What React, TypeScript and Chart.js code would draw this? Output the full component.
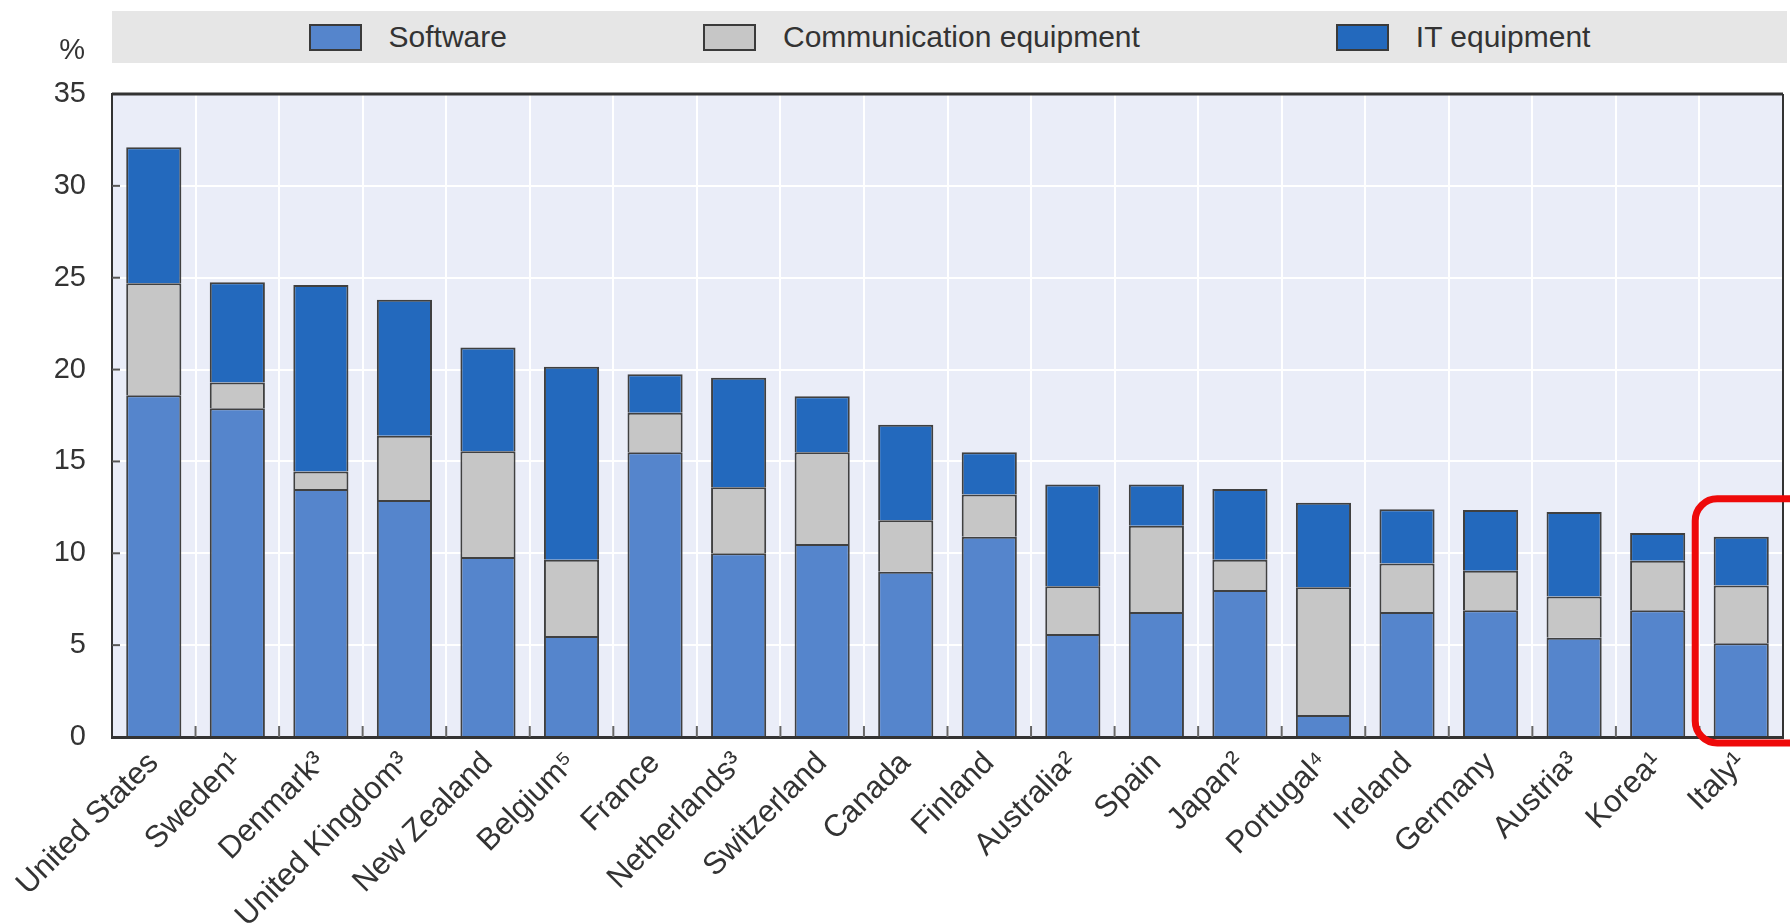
import React, { useEffect, useRef } from "react";
import { Chart, registerables } from "chart.js";

Chart.register(...registerables);

const categories = [
  "United States", "Sweden¹", "Denmark³", "United Kingdom³", "New Zealand",
  "Belgium⁵", "France", "Netherlands³", "Switzerland", "Canada",
  "Finland", "Australia²", "Spain", "Japan²", "Portugal⁴",
  "Ireland", "Germany", "Austria³", "Korea¹", "Italy¹",
];

const softwareValues = [
  18.6, 17.9, 13.5, 12.9, 9.8, 5.5, 15.5, 10.0, 10.5, 9.0,
  10.9, 5.6, 6.8, 8.0, 1.2, 6.8, 6.9, 5.4, 6.9, 5.1,
];

const communicationValues = [
  6.1, 1.4, 0.95, 3.5, 5.75, 4.15, 2.15, 3.6, 5.0, 2.8,
  2.3, 2.6, 4.7, 1.65, 6.95, 2.65, 2.15, 2.25, 2.7, 3.15,
];

const itValues = [
  7.4, 5.45, 10.15, 7.4, 5.65, 10.5, 2.1, 5.95, 3.05, 5.2,
  2.3, 5.55, 2.25, 3.85, 4.6, 2.95, 3.3, 4.6, 1.5, 2.65,
];

const seriesNames = ["Software", "Communication equipment", "IT equipment"];
const seriesColors = ["#5585cc", "#c6c6c6", "#2369bd"];

const yTicks = [0, 5, 10, 15, 20, 25, 30, 35];
const highlightIndex = 19;

const FONT = "'Liberation Sans', Arial, sans-serif";
const TEXT = "#333333";

const decorPlugin = {
  id: "decor",
  beforeDraw(chart: any) {
    const { ctx, chartArea } = chart;
    ctx.save();
    ctx.fillStyle = "#eaedf8";
    ctx.fillRect(chartArea.left, chartArea.top, chartArea.right - chartArea.left, chartArea.bottom - chartArea.top);
    ctx.restore();
  },
  afterDatasetsDraw(chart: any) {
    const { ctx, chartArea, scales } = chart;
    const x = scales.x;
    const y = scales.y;
    ctx.save();
    ctx.strokeStyle = "#666666";
    ctx.lineWidth = 2;
    for (let i = 1; i < categories.length; i++) {
      const px = (x.getPixelForValue(i - 1) + x.getPixelForValue(i)) / 2;
      ctx.beginPath();
      ctx.moveTo(px, chartArea.bottom);
      ctx.lineTo(px, chartArea.bottom - 11);
      ctx.stroke();
    }
    ctx.strokeStyle = "#555555";
    for (const v of yTicks) {
      if (v === 0 || v === 35) continue;
      const py = y.getPixelForValue(v);
      ctx.beginPath();
      ctx.moveTo(chartArea.left, py);
      ctx.lineTo(chartArea.left + 8, py);
      ctx.stroke();
    }
    ctx.strokeStyle = "#333333";
    ctx.lineWidth = 3;
    ctx.beginPath();
    ctx.moveTo(chartArea.left, chartArea.top);
    ctx.lineTo(chartArea.right, chartArea.top);
    ctx.stroke();
    ctx.lineWidth = 2;
    ctx.beginPath();
    ctx.moveTo(chartArea.right, chartArea.top);
    ctx.lineTo(chartArea.right, chartArea.bottom);
    ctx.stroke();
    ctx.fillStyle = TEXT;
    ctx.font = `29px ${FONT}`;
    ctx.textAlign = "right";
    ctx.textBaseline = "middle";
    ctx.fillText("%", chartArea.left - 27, chartArea.top - 43);
    ctx.restore();
  },
  afterDraw(chart: any) {
    const { ctx, chartArea, scales } = chart;
    const x = scales.x;
    const y = scales.y;
    const total = softwareValues[highlightIndex] + communicationValues[highlightIndex] + itValues[highlightIndex];
    const cx = x.getPixelForValue(highlightIndex);
    const left = cx - 46;
    const right = chart.width + 30;
    const top = y.getPixelForValue(total) - 38;
    const bottom = chartArea.bottom + 6;
    const r = 22;
    ctx.save();
    ctx.strokeStyle = "#ee0a0a";
    ctx.lineWidth = 7;
    ctx.beginPath();
    ctx.moveTo(right, top);
    ctx.lineTo(left + r, top);
    ctx.arcTo(left, top, left, top + r, r);
    ctx.lineTo(left, bottom - r);
    ctx.arcTo(left, bottom, left + r, bottom, r);
    ctx.lineTo(right, bottom);
    ctx.stroke();
    ctx.restore();
  },
};

function Legend() {
  return (
    <div
      style={{
        position: "absolute",
        left: 112,
        top: 11,
        width: 1675,
        height: 52,
        background: "#e6e6e6",
        display: "flex",
        alignItems: "center",
        justifyContent: "center",
        gap: 196,
        fontFamily: FONT,
        fontSize: 30,
        color: TEXT,
      }}
    >
      {seriesNames.map((name, i) => (
        <div key={name} style={{ display: "flex", alignItems: "center" }}>
          <span
            style={{
              display: "inline-block",
              width: 49,
              height: 23,
              background: seriesColors[i],
              border: "2px solid #3a3a3a",
              marginRight: 27,
            }}
          />
          <span style={{ lineHeight: "52px" }}>{name}</span>
        </div>
      ))}
    </div>
  );
}

export default function App() {
  const canvasRef = useRef<HTMLCanvasElement | null>(null);

  useEffect(() => {
    if (!canvasRef.current) return;
    const datasets = [softwareValues, communicationValues, itValues].map((data, i) => ({
      label: seriesNames[i],
      data,
      backgroundColor: seriesColors[i],
      borderColor: "#404040",
      borderWidth: 2,
      barPercentage: 0.66,
      categoryPercentage: 1,
    }));
    const chart = new Chart(canvasRef.current, {
      type: "bar",
      data: { labels: categories, datasets },
      plugins: [decorPlugin],
      options: {
        animation: false,
        responsive: true,
        maintainAspectRatio: false,
        layout: { padding: { top: 94, right: 7, left: 0, bottom: 0 } },
        plugins: {
          legend: { display: false },
          tooltip: { enabled: false },
        },
        scales: {
          x: {
            stacked: true,
            grid: { color: "#ffffff", lineWidth: 2, drawTicks: false, offset: true },
            border: { display: true, color: "#333333", width: 3 },
            ticks: {
              autoSkip: false,
              minRotation: 45,
              maxRotation: 45,
              padding: 8,
              color: TEXT,
              font: { family: FONT, size: 31 },
            },
            afterFit: (s: any) => {
              s.height = 186;
            },
          },
          y: {
            stacked: true,
            min: 0,
            max: 35,
            ticks: {
              stepSize: 5,
              padding: 26,
              color: TEXT,
              font: { family: FONT, size: 29 },
            },
            grid: { color: "#ffffff", lineWidth: 2, drawTicks: false },
            border: { display: true, color: "#333333", width: 2 },
            afterFit: (s: any) => {
              s.width = 112;
            },
          },
        },
      },
    });
    return () => chart.destroy();
  }, []);

  return (
    <div style={{ position: "fixed", left: 0, top: 0, width: 1790, height: 923, background: "#ffffff" }}>
      <canvas ref={canvasRef} />
      <Legend />
    </div>
  );
}
